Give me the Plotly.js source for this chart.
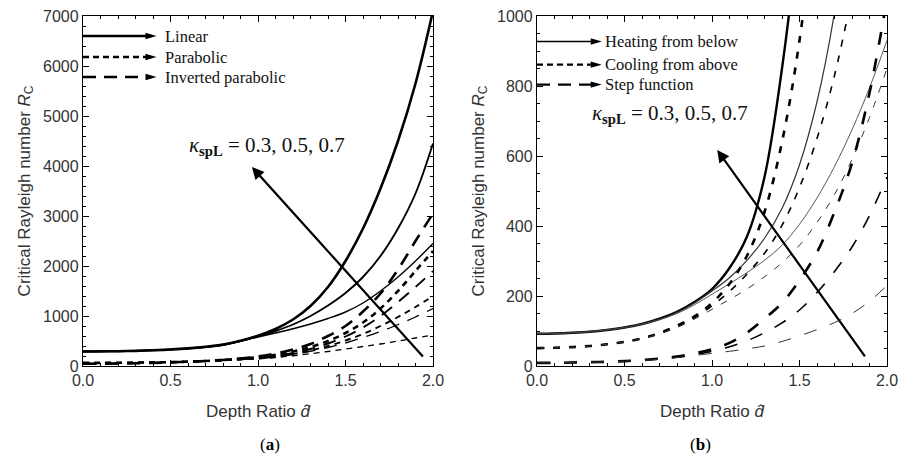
<!DOCTYPE html>
<html>
<head>
<meta charset="utf-8">
<script src="https://cdn.plot.ly/plotly-3.0.1.min.js"></script>
<style>html,body{margin:0;padding:0;background:#fff;} #plot{width:899px;height:461px;}</style>
</head>
<body>
<div id="plot"></div>
<script>
// Depth ratio grid
const depthRatio = [0,0.1,0.2,0.3,0.4,0.5,0.6,0.7,0.8,0.9,1.0,1.1,1.2,1.3,1.4,1.5,1.6,1.7,1.8,1.9,2.0];

// Panel (a): Linear (solid)
const linearK03 = [290,292,296,303,314,330,352,383,428,505,605,740,930,1200,1580,2100,2750,3550,4500,5650,7100];
const linearK05 = [290,292,296,303,314,330,351,381,424,500,595,700,830,1000,1210,1460,1780,2200,2750,3450,4450];
const linearK07 = [290,292,296,303,314,329,350,379,420,495,580,660,745,840,950,1080,1260,1500,1780,2100,2450];
// Panel (a): Parabolic (short dash)
const parabolicK03 = [62,63,65,68,72,78,88,100,120,145,180,225,290,380,500,660,870,1150,1500,1900,2300];
const parabolicK05 = [62,63,65,68,72,78,87,99,117,136,155,190,240,310,400,510,640,800,980,1180,1400];
const parabolicK07 = [62,63,65,68,72,77,85,96,110,125,140,170,205,245,290,340,390,440,500,560,620];
// Panel (a): Inverted parabolic (long dash)
const invParabolicK03 = [45,47,50,55,62,72,85,100,120,150,190,250,330,440,600,800,1090,1450,1930,2500,3050];
const invParabolicK05 = [45,47,50,55,62,72,85,100,118,138,160,200,260,340,450,590,770,1000,1280,1580,1900];
const invParabolicK07 = [45,47,50,55,62,71,83,97,112,128,145,180,230,295,370,460,570,690,830,980,1150];

// Panel (b): Heating from below (solid)
const heatingK03 = [92,93,95,98,103,110,120,135,155,183,220,280,370,540,850,1280,1900,null,null,null,null];
const heatingK05 = [92,93,95,98,103,110,120,134,153,180,214,252,302,365,450,575,755,1010,1380,null,null];
const heatingK07 = [92,93,95,98,103,110,119,132,150,175,205,235,267,302,345,405,480,570,675,795,930];
// Panel (b): Cooling from above (short dash)
const coolingK03 = [51,52,54,57,62,69,79,94,115,142,180,235,315,440,640,930,1350,null,null,null,null];
const coolingK05 = [51,52,54,57,62,69,79,93,113,138,172,213,263,322,402,510,650,830,1060,null,null];
const coolingK07 = [51,52,54,57,62,69,78,92,110,134,162,190,220,255,295,345,410,490,590,710,850];
// Panel (b): Step function (long dash)
const stepK03 = [9,9,10,11,12,14,17,21,27,36,48,66,95,135,180,245,325,440,580,780,1050];
const stepK05 = [9,9,10,11,12,14,17,20,25,33,42,55,72,95,123,160,210,270,340,430,540];
const stepK07 = [9,9,10,11,12,14,16,19,24,30,36,42,49,57,70,86,104,124,150,185,230];

const legendA = ["Linear","Parabolic","Inverted parabolic"];
const legendB = ["Heating from below","Cooling from above","Step function"];
const kappaLabel = "<i>κ</i><sub><b>spL</b></sub> = 0.3, 0.5, 0.7";

const SHORT_A = "6px,5px", LONG_A = "13px,9px";
const SHORT_B = "7px,9px", LONG_B = "13px,14px";

function tr(y, xa, ya, w, dash, color){
  return {x: depthRatio, y: y, xaxis: xa, yaxis: ya, type:'scatter', mode:'lines',
    line:{color: color||'#000', width:w, dash:dash, shape:'spline', smoothing:1},
    connectgaps:false, showlegend:false, hoverinfo:'skip'};
}

const data = [
  tr(linearK03,'x','y',2.6,'solid'), tr(linearK05,'x','y',1.9,'solid'), tr(linearK07,'x','y',1.4,'solid'),
  tr(parabolicK03,'x','y',2.6,SHORT_A), tr(parabolicK05,'x','y',1.9,SHORT_A), tr(parabolicK07,'x','y',1.3,SHORT_A),
  tr(invParabolicK03,'x','y',2.6,LONG_A), tr(invParabolicK05,'x','y',1.9,LONG_A), tr(invParabolicK07,'x','y',1.3,LONG_A),
  tr(heatingK03,'x2','y2',2.4,'solid'), tr(heatingK05,'x2','y2',1.2,'solid','#333'), tr(heatingK07,'x2','y2',0.9,'solid','#444'),
  tr(coolingK03,'x2','y2',2.6,SHORT_B), tr(coolingK05,'x2','y2',1.6,SHORT_B), tr(coolingK07,'x2','y2',1.0,SHORT_B,'#333'),
  tr(stepK03,'x2','y2',2.6,LONG_B), tr(stepK05,'x2','y2',1.6,LONG_B), tr(stepK07,'x2','y2',1.0,LONG_B,'#333')
];

const tickFont = {family:'Liberation Sans, Arial, sans-serif', size:16, color:'#333'};
const titleFont = {family:'Liberation Sans, Arial, sans-serif', size:17, color:'#333'};
function xax(dom, anchor){
  return {domain:dom, anchor:anchor, range:[0,2], tick0:0, dtick:0.5, tickformat:'.1f',
    ticks:'inside', ticklen:6, tickwidth:1, tickcolor:'#000', mirror:'allticks',
    showline:true, linecolor:'#000', linewidth:1.2, showgrid:false, zeroline:false,
    minor:{dtick:0.1, ticks:'inside', ticklen:3, tickcolor:'#000', showgrid:false},
    tickfont:tickFont, fixedrange:true,
    title:{text:'Depth Ratio <i>d̂</i>', font:titleFont, standoff:16}};
}
function yax(dom, anchor, max, dt, mdt){
  return {domain:dom, anchor:anchor, range:[0,max], dtick:dt, tick0:0,
    ticks:'inside', ticklen:6, tickwidth:1, tickcolor:'#000', mirror:'allticks',
    showline:true, linecolor:'#000', linewidth:1.2, showgrid:false, zeroline:false,
    minor:{dtick:mdt, ticks:'inside', ticklen:3, tickcolor:'#000', showgrid:false},
    tickfont:tickFont, fixedrange:true,
    title:{text:'Critical Rayleigh number <i>R</i><sub>C</sub>', font:titleFont, standoff:8}};
}

const yDom = [1-366/461, 1-16/461];
const serif = {family:'Liberation Serif, Times New Roman, serif', size:16.5, color:'#111'};

function legendShapes(xref, yref, ys, xEnd, dashes, widths){
  const s = [];
  ys.forEach((yv,i)=>{
    s.push({type:'line', xref:xref, yref:yref, x0:0, x1:xEnd*0.93, y0:yv, y1:yv,
      line:{color:'#000', width:widths[i], dash:dashes[i]}});
    s.push({type:'path', xref:xref, yref:yref, xsizemode:'pixel', ysizemode:'pixel',
      xanchor:xEnd, yanchor:yv, path:'M0,0 L-11,3.2 L-11,-3.2 Z',
      fillcolor:'#000', line:{width:0}});
  });
  return s;
}

const legAy = [6600, 6180, 5780];
const legBy = [927, 861, 804];

const shapes = [].concat(
  legendShapes('x','y',legAy,0.42,['solid','6px,4px','13px,8px'],[2.4,2.4,2.6]),
  legendShapes('x2','y2',legBy,0.37,['solid','6px,4px','13px,8px'],[1.6,2.4,2.4])
);

const annotations = [];
legendA.forEach((t,i)=>annotations.push({xref:'x', yref:'y', x:0.455, y:legAy[i], text:t,
  showarrow:false, xanchor:'left', yanchor:'middle', font:serif}));
legendB.forEach((t,i)=>annotations.push({xref:'x2', yref:'y2', x:0.375, y:legBy[i], text:t,
  showarrow:false, xanchor:'left', yanchor:'middle', font:serif}));
const kFont = {family:'Liberation Serif, Times New Roman, serif', size:21, color:'#111'};
annotations.push({xref:'x', yref:'y', x:1.05, y:4400, text:kappaLabel, showarrow:false, font:kFont});
annotations.push({xref:'x2', yref:'y2', x:0.76, y:720, text:kappaLabel, showarrow:false, font:kFont});
// kappa arrows
annotations.push({xref:'x', yref:'y', axref:'x', ayref:'y', x:0.965, y:3980, ax:1.95, ay:160,
  text:'', showarrow:true, arrowhead:2, arrowsize:1.1, arrowwidth:2.2, arrowcolor:'#000'});
annotations.push({xref:'x2', yref:'y2', axref:'x2', ayref:'y2', x:1.03, y:617, ax:1.88, ay:23,
  text:'', showarrow:true, arrowhead:2, arrowsize:1.1, arrowwidth:2.2, arrowcolor:'#000'});
// panel labels
const pFont = {family:'Liberation Serif, Times New Roman, serif', size:17, color:'#000'};
annotations.push({xref:'paper', yref:'paper', x:258/899, y:1-444/461, yanchor:'middle', text:'(<b>a</b>)', showarrow:false, font:pFont});
annotations.push({xref:'paper', yref:'paper', x:713/899, y:1-444/461, yanchor:'middle', text:'(<b>b</b>)', showarrow:false, font:pFont});

const layout = {
  width:899, height:461, margin:{l:0,r:0,t:0,b:0}, paper_bgcolor:'#fff', plot_bgcolor:'#fff',
  showlegend:false,
  xaxis: xax([83/899, 433/899], 'y'),
  yaxis: yax(yDom, 'x', 7000, 1000, 200),
  xaxis2: xax([537/899, 887/899], 'y2'),
  yaxis2: yax(yDom, 'x2', 1000, 200, 50),
  shapes: shapes, annotations: annotations
};

Plotly.newPlot('plot', data, layout, {displayModeBar:false, staticPlot:true});
</script>
</body>
</html>
